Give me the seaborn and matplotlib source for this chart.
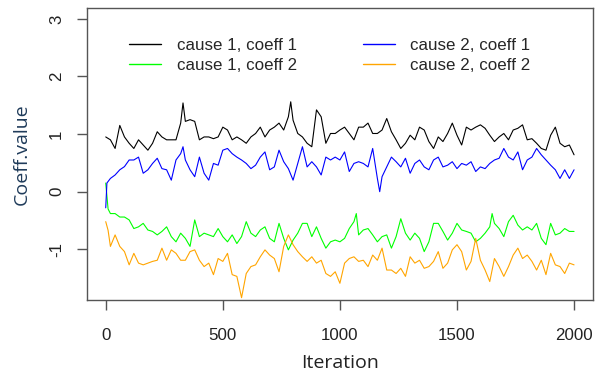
import matplotlib
matplotlib.use("Agg")
import matplotlib.pyplot as plt
from matplotlib.lines import Line2D
import seaborn as sns
import pandas as pd

# ---- data ----
iter_c1k1 = [0, 20, 40, 60, 80, 100, 120, 140, 160, 180, 200, 220, 240, 260, 280, 300, 320, 330, 340, 360, 380,
             400, 420, 440, 460, 480, 500, 520, 540, 560, 580, 600, 620, 640, 660, 680, 700, 720, 740, 760, 780,
             790, 800, 820, 840, 860, 880, 900, 920, 940, 960, 980, 1000, 1020, 1040, 1060, 1080, 1100, 1120,
             1140, 1160, 1180, 1200, 1220, 1240, 1260, 1280, 1300, 1320, 1340, 1360, 1380, 1400, 1420, 1440,
             1460, 1480, 1500, 1520, 1540, 1560, 1580, 1600, 1620, 1640, 1660, 1680, 1700, 1720, 1740, 1760,
             1780, 1800, 1820, 1840, 1860, 1880, 1900, 1920, 1940, 1960, 1980, 2000]
val_c1k1 = [0.95, 0.9, 0.75, 1.15, 0.95, 0.84, 0.75, 0.9, 0.81, 0.72, 0.84, 1.04, 0.95, 0.9, 0.9, 0.9, 1.19, 1.54,
            1.22, 1.25, 1.22, 0.9, 0.95, 0.95, 0.92, 0.95, 1.12, 1.07, 0.9, 0.95, 0.9, 0.84, 0.95, 1.01, 1.12,
            0.95, 1.07, 1.12, 1.19, 1.07, 1.3, 1.56, 1.24, 1.01, 0.95, 0.84, 0.78, 1.42, 1.3, 0.84, 1.01, 1.01,
            1.07, 1.12, 1.01, 0.9, 1.12, 1.12, 1.19, 1.01, 1.01, 1.07, 1.27, 1.04, 0.9, 0.75, 0.84, 0.98, 0.9,
            1.12, 1.07, 0.87, 0.75, 0.95, 0.87, 1.01, 1.19, 0.98, 0.81, 1.12, 1.07, 1.12, 1.16, 1.1, 0.98, 0.87,
            0.95, 1.01, 0.9, 1.07, 1.1, 1.16, 0.9, 0.92, 0.84, 0.75, 0.72, 0.98, 1.12, 0.84, 0.78, 0.81, 0.64]

iter_c1k2 = [0, 10, 20, 40, 60, 80, 100, 120, 140, 160, 180, 200, 220, 240, 260, 280, 300, 320, 340, 360, 380,
             400, 420, 440, 460, 480, 500, 520, 540, 560, 580, 600, 620, 640, 660, 680, 700, 720, 740, 760, 780,
             800, 820, 840, 860, 880, 900, 920, 940, 960, 980, 1000, 1020, 1040, 1060, 1070, 1080, 1100, 1120,
             1140, 1160, 1180, 1200, 1220, 1240, 1260, 1280, 1300, 1320, 1340, 1360, 1380, 1400, 1420, 1440,
             1460, 1480, 1500, 1520, 1540, 1560, 1580, 1600, 1620, 1640, 1650, 1660, 1680, 1700, 1720, 1740,
             1760, 1780, 1800, 1820, 1840, 1860, 1880, 1900, 1920, 1940, 1960, 1980, 2000]
val_c1k2 = [0.15, -0.3, -0.38, -0.38, -0.44, -0.44, -0.49, -0.64, -0.61, -0.55, -0.665, -0.69, -0.75, -0.69,
            -0.61, -0.78, -0.87, -0.72, -0.81, -0.95, -0.49, -0.78, -0.72, -0.75, -0.78, -0.64, -0.78, -0.87,
            -0.75, -0.9, -0.78, -0.52, -0.72, -0.78, -0.665, -0.61, -0.81, -0.87, -0.55, -0.81, -1.01, -0.84,
            -0.72, -0.55, -0.55, -0.78, -0.61, -0.81, -0.98, -0.87, -0.84, -0.87, -0.81, -0.64, -0.52, -0.38,
            -0.75, -0.665, -0.64, -0.75, -0.87, -0.78, -0.75, -0.98, -0.78, -0.47, -0.72, -0.84, -0.72, -0.81,
            -1.04, -0.87, -0.55, -0.55, -0.69, -0.84, -0.72, -0.55, -0.665, -0.69, -0.72, -0.87, -0.81, -0.72,
            -0.61, -0.38, -0.55, -0.64, -0.78, -0.52, -0.41, -0.58, -0.665, -0.61, -0.665, -0.55, -0.81, -0.92,
            -0.55, -0.75, -0.72, -0.64, -0.69, -0.69]

iter_c2k1 = [0, 5, 20, 40, 60, 80, 100, 120, 140, 160, 180, 200, 220, 240, 260, 280, 300, 320, 330, 340, 360,
             380, 400, 420, 440, 460, 480, 500, 520, 540, 560, 580, 600, 620, 640, 660, 680, 700, 720, 740, 760,
             780, 800, 820, 840, 860, 880, 900, 920, 940, 960, 980, 1000, 1020, 1040, 1060, 1080, 1100, 1120,
             1140, 1160, 1170, 1180, 1200, 1220, 1240, 1260, 1280, 1300, 1320, 1340, 1360, 1380, 1400, 1420,
             1440, 1460, 1480, 1500, 1520, 1540, 1560, 1580, 1600, 1620, 1640, 1660, 1680, 1700, 1720, 1740,
             1760, 1780, 1800, 1820, 1840, 1860, 1880, 1900, 1920, 1940, 1960, 1980, 2000]
val_c2k1 = [-0.28, 0.15, 0.23, 0.29, 0.38, 0.435, 0.55, 0.55, 0.6, 0.32, 0.38, 0.49, 0.58, 0.4, 0.38, 0.2, 0.55,
            0.66, 0.78, 0.55, 0.38, 0.26, 0.6, 0.32, 0.2, 0.49, 0.46, 0.72, 0.75, 0.66, 0.6, 0.55, 0.49, 0.4,
            0.46, 0.6, 0.69, 0.38, 0.43, 0.72, 0.52, 0.4, 0.2, 0.49, 0.78, 0.43, 0.52, 0.43, 0.29, 0.6, 0.55,
            0.6, 0.55, 0.69, 0.35, 0.49, 0.52, 0.49, 0.43, 0.75, 0.23, 0.0, 0.26, 0.43, 0.6, 0.52, 0.43, 0.58,
            0.32, 0.49, 0.55, 0.43, 0.38, 0.55, 0.6, 0.43, 0.46, 0.52, 0.4, 0.49, 0.46, 0.52, 0.35, 0.43, 0.4,
            0.49, 0.55, 0.58, 0.75, 0.6, 0.55, 0.69, 0.38, 0.55, 0.6, 0.75, 0.64, 0.55, 0.46, 0.38, 0.23, 0.38,
            0.23, 0.38]

iter_c2k2 = [0, 10, 20, 40, 60, 80, 100, 120, 140, 160, 180, 200, 220, 240, 260, 280, 300, 320, 340, 360, 380,
             400, 420, 440, 460, 480, 500, 520, 540, 560, 580, 600, 620, 640, 660, 680, 700, 720, 740, 760, 780,
             800, 820, 840, 860, 880, 900, 920, 940, 960, 980, 1000, 1020, 1040, 1060, 1080, 1100, 1120, 1140,
             1160, 1180, 1200, 1220, 1240, 1260, 1280, 1300, 1320, 1340, 1360, 1380, 1400, 1420, 1440, 1460,
             1480, 1500, 1520, 1540, 1560, 1580, 1600, 1620, 1640, 1660, 1680, 1700, 1720, 1740, 1760, 1780,
             1800, 1820, 1840, 1860, 1880, 1900, 1920, 1940, 1960, 1980, 2000]
val_c2k2 = [-0.52, -0.67, -0.95, -0.75, -0.95, -1.04, -1.27, -1.07, -1.24, -1.27, -1.24, -1.21, -1.19, -0.98,
            -1.19, -1.01, -1.07, -1.19, -1.19, -1.04, -1.01, -1.19, -1.3, -1.24, -1.44, -1.16, -1.21, -1.07,
            -1.44, -1.47, -1.84, -1.42, -1.3, -1.27, -1.13, -1.01, -1.1, -1.16, -1.39, -0.95, -0.75, -0.92,
            -1.04, -1.13, -1.21, -1.13, -1.24, -1.19, -1.42, -1.47, -1.39, -1.59, -1.24, -1.16, -1.13, -1.21,
            -1.19, -1.3, -1.1, -1.19, -0.98, -1.36, -1.36, -1.42, -1.33, -1.47, -1.13, -1.24, -1.19, -1.33,
            -1.3, -1.21, -1.04, -1.33, -1.24, -1.01, -0.92, -1.04, -1.36, -1.21, -0.81, -1.19, -1.36, -1.56,
            -1.16, -1.3, -1.47, -1.3, -1.1, -0.98, -1.16, -1.1, -1.21, -1.36, -1.19, -1.44, -1.07, -1.27, -1.3,
            -1.42, -1.24, -1.27]

series_labels = ["cause 1, coeff 1", "cause 1, coeff 2", "cause 2, coeff 1", "cause 2, coeff 2"]
series_colors = ["#000000", "#00FF00", "#0000FF", "#FFA500"]
y_ticks = [-1, 0, 1, 2, 3]
x_ticks = [0, 500, 1000, 1500, 2000]

frames = []
for lab, xs, ys in zip(series_labels,
                       [iter_c1k1, iter_c1k2, iter_c2k1, iter_c2k2],
                       [val_c1k1, val_c1k2, val_c2k1, val_c2k2]):
    frames.append(pd.DataFrame({"Iteration": xs, "Coeff.value": ys, "series": lab}))
df = pd.concat(frames, ignore_index=True)

sns.set_theme(style="white")
plt.rcParams["font.family"] = ["Liberation Sans", "DejaVu Sans"]

fig = plt.figure(figsize=(6, 3.75), dpi=100)
ax = fig.add_axes([0.145, 0.2, 0.843, 0.779])

palette = dict(zip(series_labels, series_colors))
sns.lineplot(data=df, x="Iteration", y="Coeff.value", hue="series", hue_order=series_labels,
             palette=palette, estimator=None, sort=False, linewidth=0.8, legend=False, ax=ax)

ax.set_xlim(-80, 2080)
ax.set_ylim(-1.88, 3.19)
ax.set_xticks(x_ticks)
ax.set_yticks(y_ticks)
ax.set_xticklabels([str(v) for v in x_ticks])
ax.set_yticklabels([str(v) for v in y_ticks], rotation=90, va="center")

edge = "#555555"
for s in ax.spines.values():
    s.set_visible(True)
    s.set_color(edge)
    s.set_linewidth(1.0)
ax.tick_params(axis="both", which="major", direction="out", length=7, width=1.0, color=edge,
               labelsize=12.2, labelcolor="#222222", bottom=True, left=True)
ax.tick_params(axis="x", pad=13)
ax.tick_params(axis="y", pad=9.5)

ax.set_xlabel("Iteration", fontsize=14, family=["Open Sans", "DejaVu Sans"], color="#222222", labelpad=8)
ax.set_ylabel("Coeff.value", fontsize=14, family=["Open Sans", "DejaVu Sans"], color="#1F3B5A", labelpad=13)

handles = [Line2D([0], [0], color=c, lw=1.0) for c in series_colors]
ax.legend(handles, series_labels, ncol=2, frameon=False, loc="upper left",
          bbox_to_anchor=(0.07, 0.92), fontsize=12.2, handlelength=1.9, handletextpad=0.9,
          columnspacing=3.9, labelspacing=0.3, borderaxespad=0)

fig.savefig("out.png", dpi=100, facecolor="white")
